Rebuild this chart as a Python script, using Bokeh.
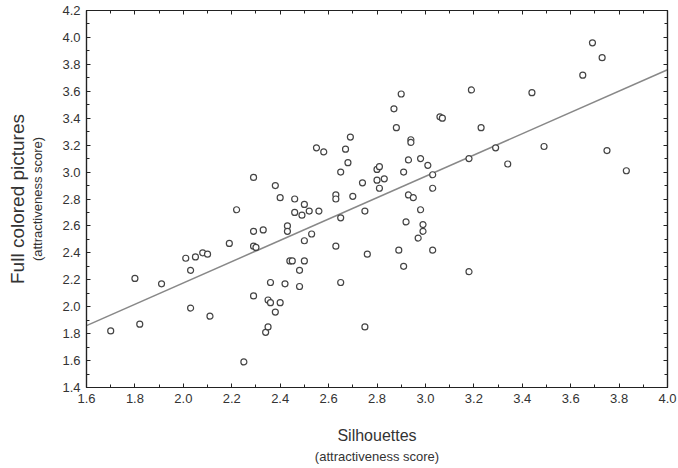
from bokeh.plotting import figure
from bokeh.models import (Range1d, LinearAxis, SingleIntervalTicker, PrintfTickFormatter,
                          Title, CustomLabelingPolicy)
from bokeh.embed import file_html
from bokeh.resources import INLINE

# Silhouettes (x) vs full colored pictures (y) attractiveness scores
silhouettes = [1.70, 1.80, 1.82, 1.91, 2.01, 2.03, 2.03, 2.05, 2.08, 2.10,
               2.11, 2.19, 2.22, 2.25, 2.29, 2.29, 2.29, 2.30, 2.29, 2.33,
               2.34, 2.35, 2.35, 2.36, 2.36, 2.38, 2.40, 2.40, 2.38, 2.42,
               2.43, 2.43, 2.44, 2.45, 2.46, 2.46, 2.48, 2.48, 2.49, 2.50,
               2.50, 2.50, 2.52, 2.53, 2.55, 2.56, 2.58, 2.63, 2.63, 2.63,
               2.65, 2.65, 2.65, 2.67, 2.68, 2.69, 2.70, 2.74, 2.75, 2.75,
               2.76, 2.80, 2.81, 2.80, 2.83, 2.81, 2.87, 2.88, 2.89, 2.90,
               2.91, 2.91, 2.92, 2.93, 2.93, 2.94, 2.94, 2.95, 2.97, 2.98,
               2.98, 2.99, 2.99, 3.01, 3.03, 3.03, 3.03, 3.06, 3.07, 3.18,
               3.18, 3.19, 3.23, 3.29, 3.34, 3.44, 3.49, 3.65, 3.69, 3.73,
               3.75, 3.83]
full_colored = [1.82, 2.21, 1.87, 2.17, 2.36, 2.27, 1.99, 2.37, 2.40, 2.39,
                1.93, 2.47, 2.72, 1.59, 2.96, 2.56, 2.45, 2.44, 2.08, 2.57,
                1.81, 1.85, 2.05, 2.03, 2.18, 2.90, 2.81, 2.03, 1.96, 2.17,
                2.60, 2.56, 2.34, 2.34, 2.80, 2.70, 2.27, 2.15, 2.68, 2.76,
                2.49, 2.34, 2.71, 2.54, 3.18, 2.71, 3.15, 2.83, 2.80, 2.45,
                3.00, 2.66, 2.18, 3.17, 3.07, 3.26, 2.82, 2.92, 2.71, 1.85,
                2.39, 3.02, 3.04, 2.94, 2.95, 2.88, 3.47, 3.33, 2.42, 3.58,
                3.00, 2.30, 2.63, 3.09, 2.83, 3.24, 3.22, 2.81, 2.51, 3.10,
                2.72, 2.61, 2.56, 3.05, 2.98, 2.88, 2.42, 3.41, 3.40, 3.10,
                2.26, 3.61, 3.33, 3.18, 3.06, 3.59, 3.19, 3.72, 3.96, 3.85,
                3.16, 3.01]
# regression line end points
fit_x = [1.6, 4.0]
fit_y = [1.86, 3.76]

FONT = "Liberation Sans"
TXT = "#333333"

p = figure(width=678, height=468, output_backend="svg", toolbar_location=None,
           x_range=Range1d(1.6, 4.0), y_range=Range1d(1.4, 4.2),
           min_border_left=86, min_border_right=11, min_border_top=10,
           min_border_bottom=81, x_axis_location=None, y_axis_location=None)
p.grid.visible = False
p.outline_line_color = "#222222"
p.outline_line_width = 1.2
p.background_fill_color = "white"
p.border_fill_color = "white"

no_labels = CustomLabelingPolicy(code="return new indices.constructor(indices.size)")


def style_axis(ax, labels=True):
    ax.ticker = SingleIntervalTicker(interval=0.2, num_minor_ticks=2)
    ax.formatter = PrintfTickFormatter(format="%.1f")
    ax.axis_line_color = "#222222"
    ax.axis_line_width = 1.2
    ax.major_tick_in = 4
    ax.major_tick_out = 0
    ax.minor_tick_in = 3
    ax.minor_tick_out = 0
    ax.major_tick_line_color = "#222222"
    ax.minor_tick_line_color = "#222222"
    if labels:
        ax.major_label_text_font = FONT
        ax.major_label_text_font_size = "13px"
        ax.major_label_text_color = TXT
        ax.major_label_standoff = 6
    else:
        ax.major_label_text_font_size = "1px"
        ax.major_label_standoff = 0
        ax.major_label_policy = no_labels


xb = LinearAxis()
style_axis(xb)
xb.axis_label = "Silhouettes"
xb.axis_label_text_font = FONT
xb.axis_label_text_font_size = "16px"
xb.axis_label_text_font_style = "normal"
xb.axis_label_text_color = TXT
xb.axis_label_standoff = 21
p.add_layout(xb, "below")

yl = LinearAxis()
style_axis(yl)
yl.axis_label = "(attractiveness score)"
yl.axis_label_text_font = FONT
yl.axis_label_text_font_size = "13px"
yl.axis_label_text_font_style = "normal"
yl.axis_label_text_color = TXT
yl.axis_label_standoff = 14
p.add_layout(yl, "left")

xt = LinearAxis()
style_axis(xt, labels=False)
p.add_layout(xt, "above")
yr = LinearAxis()
style_axis(yr, labels=False)
p.add_layout(yr, "right")

t_below = Title(text="(attractiveness score)", align="center", text_font=FONT,
                text_font_size="13px", text_font_style="normal", text_color=TXT,
                standoff=1)
p.add_layout(t_below, "below")
t_left = Title(text="Full colored pictures", align="center", text_font=FONT,
               text_font_size="19px", text_font_style="normal", text_color=TXT,
               standoff=0)
p.add_layout(t_left, "left")

p.line(fit_x, fit_y, line_color="#888888", line_width=1.5)
p.scatter(silhouettes, full_colored, marker="circle", size=6,
          fill_color="white", line_color="#444444", line_width=1.2)

open("out.html", "w").write(file_html(p, INLINE))
